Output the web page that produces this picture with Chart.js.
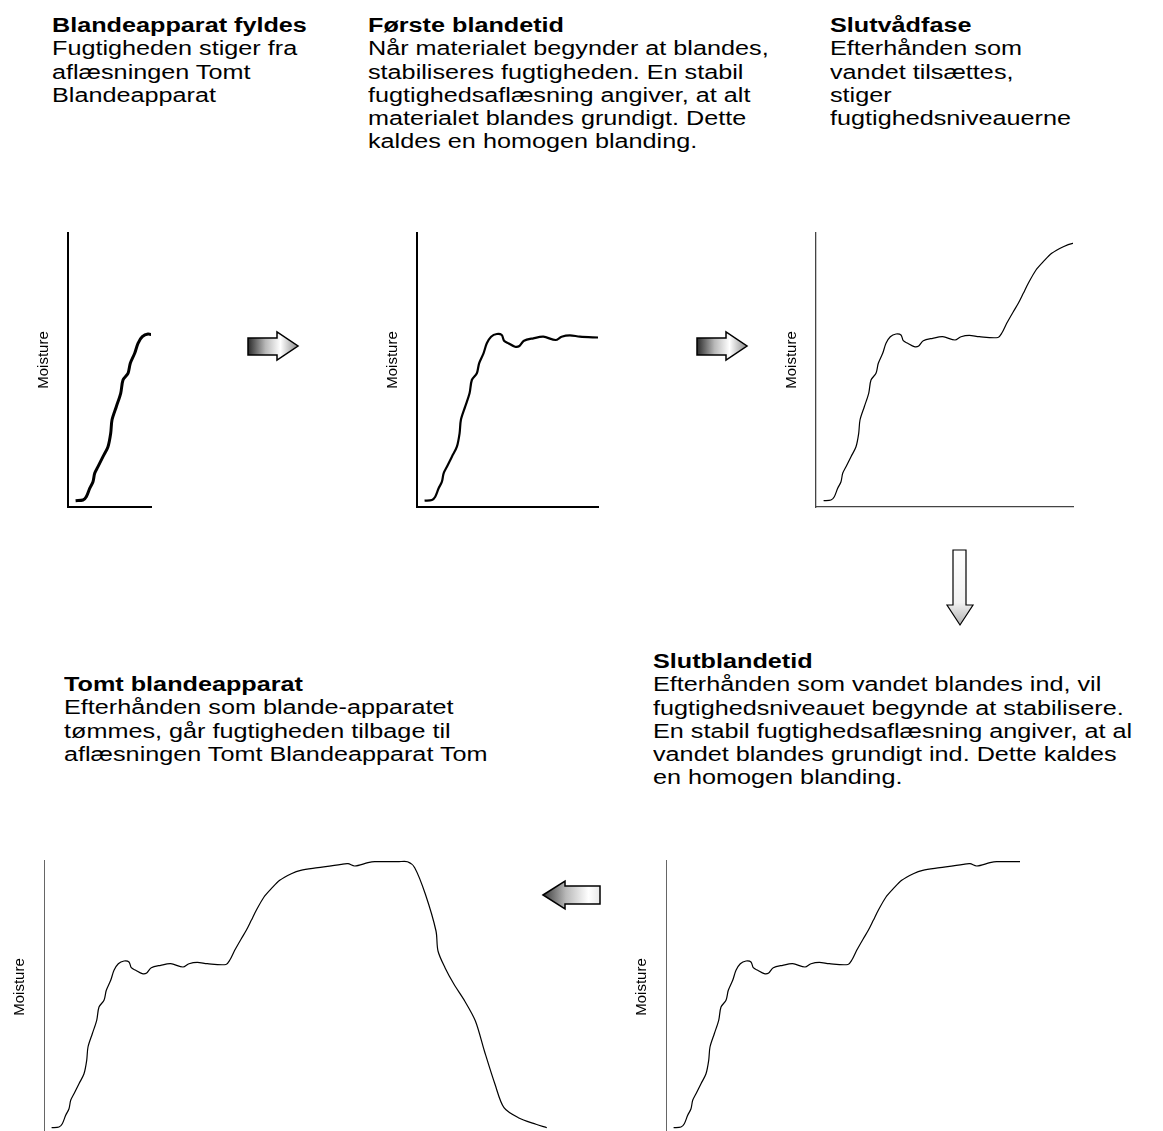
<!DOCTYPE html>
<html>
<head>
<meta charset="utf-8">
<script src="https://cdn.jsdelivr.net/npm/chart.js@4"></script>
<style>
body { margin: 0; width: 1163px; height: 1131px; position: relative; overflow: hidden; background: #fff; font-family: Arial, "Liberation Sans", sans-serif; }
.txt { position: absolute; font-size: 20px; line-height: 23.3px; color: #000; white-space: nowrap; transform: scaleX(1.26); transform-origin: 0 0; }
canvas { position: absolute; }
svg { position: absolute; left: 0; top: 0; }
</style>
</head>
<body>

<div class="txt" style="left:52px;top:14px"><b>Blandeapparat fyldes</b><br>Fugtigheden stiger fra<br>aflæsningen Tomt<br>Blandeapparat</div>
<div class="txt" style="left:368px;top:14px"><b>Første blandetid</b><br>Når materialet begynder at blandes,<br>stabiliseres fugtigheden. En stabil<br>fugtighedsaflæsning angiver, at alt<br>materialet blandes grundigt. Dette<br>kaldes en homogen blanding.</div>
<div class="txt" style="left:830px;top:14px"><b>Slutvådfase</b><br>Efterhånden som<br>vandet tilsættes,<br>stiger<br>fugtighedsniveauerne</div>
<div class="txt" style="left:653px;top:650px"><b>Slutblandetid</b><br>Efterhånden som vandet blandes ind, vil<br>fugtighedsniveauet begynde at stabilisere.<br>En stabil fugtighedsaflæsning angiver, at al<br>vandet blandes grundigt ind. Dette kaldes<br>en homogen blanding.</div>
<div class="txt" style="left:64px;top:673px"><b>Tomt blandeapparat</b><br>Efterhånden som blande-apparatet<br>tømmes, går fugtigheden tilbage til<br>aflæsningen Tomt Blandeapparat Tom</div>

<canvas id="phase1"></canvas>
<canvas id="phase2"></canvas>
<canvas id="phase3"></canvas>
<canvas id="phase4"></canvas>
<canvas id="phase5"></canvas>

<svg width="1163" height="1131">
  <defs>
    <linearGradient id="gRight" x1="0" y1="0" x2="1" y2="0">
      <stop offset="0" stop-color="#2a2a2a"/>
      <stop offset="0.35" stop-color="#b8b8b8"/>
      <stop offset="0.65" stop-color="#ffffff"/>
      <stop offset="1" stop-color="#8a8a8a"/>
    </linearGradient>
    <linearGradient id="gDown" x1="0" y1="0" x2="0" y2="1">
      <stop offset="0" stop-color="#ffffff"/>
      <stop offset="0.7" stop-color="#f2f2f2"/>
      <stop offset="1" stop-color="#b0b0b0"/>
    </linearGradient>
    <linearGradient id="gLeft" x1="0" y1="0" x2="1" y2="0">
      <stop offset="0" stop-color="#3a3a3a"/>
      <stop offset="0.4" stop-color="#b8b8b8"/>
      <stop offset="0.8" stop-color="#ffffff"/>
      <stop offset="1" stop-color="#e8e8e8"/>
    </linearGradient>
  </defs>
  <polygon points="248,338 277,338 277,332 298,346 277,360 277,355 248,355" fill="url(#gRight)" stroke="#000" stroke-width="1.5"/>
  <polygon points="697,338 726,338 726,332 747,346 726,360 726,355 697,355" fill="url(#gRight)" stroke="#000" stroke-width="1.5"/>
  <polygon points="953,550 966,550 966,605 973,605 960,625 947,605 953,605" fill="url(#gDown)" stroke="#000" stroke-width="1.2"/>
  <polygon points="543,895 565,881 565,886 600,886 600,904 565,904 565,909" fill="url(#gLeft)" stroke="#000" stroke-width="1.5"/>
</svg>

<script>
// moisture trace (time in px-units from the y axis, moisture up from the x axis)
const timeVals = [7.6, 15, 18.3, 21.7, 25, 26.7, 30, 35, 40, 42.7, 44, 48.3, 52.7, 55, 60, 62.3, 66.7, 70, 74.3, 80,
  85, 87.3, 91.7, 98.3, 102.7, 107.3, 116.7, 126.7, 139, 145, 153.3, 163.3, 182,
  185.7, 190.7, 197.3, 202.3, 207.3, 212.3, 220, 227.3, 235.7, 247.3, 256.7, 274, 297.3, 304, 310.7, 324, 330.7, 354, 363.5,
  370.7, 381.4, 392, 394, 401, 410, 420.7, 431.4, 440.4, 451, 460, 474.3, 492, 502.8];
const moistureVals = [6.3, 7, 10.3, 18.7, 25.3, 33.7, 40.3, 50.3, 60.3, 73.7, 87, 100.3, 113.7, 127, 133.7, 143.7, 153.7, 163.7, 170.3, 173,
  172, 166.3, 163.7, 160.3, 161, 166.3, 168.7, 170.3, 167, 170.3, 171.7, 170.3, 169.5,
  173.7, 183.7, 195.3, 203.7, 213.7, 223.7, 237, 245.3, 253.7, 260.3, 263.7, 266.3, 269.7, 270.3, 268, 271.3, 272.3, 272.3, 272.3,
  266.3, 239.7, 203, 183, 166.3, 149.7, 133, 113, 83, 49.7, 26.3, 16.3, 9.7, 6.3];
// where each phase's time axis ends
const phaseEnds = [83, 181.5, 257, 354, 503];
const moistureMax = 274;
const axisLabel = 'Moisture';

// axis name sits a little above the middle of the y axis, as in the original
const axisLabelPlugin = {
  id: 'axisLabel',
  afterDraw(chart) {
    const { ctx, chartArea } = chart;
    ctx.save();
    ctx.translate(chartArea.left - 24, (chartArea.top + chartArea.bottom) / 2 - 10);
    ctx.rotate(-Math.PI / 2);
    ctx.font = '15px Arial';
    ctx.fillStyle = '#000';
    ctx.textAlign = 'center';
    ctx.textBaseline = 'middle';
    ctx.fillText(axisLabel, 0, 0);
    ctx.restore();
  }
};

function drawPhase(id, axisX, axisTop, tEnd, lineW, axisColor, axisW, showXAxis) {
  const cv = document.getElementById(id);
  const padTop = 4, padRight = 4, padBottom = 4, axisArea = 40;
  cv.width = axisArea + tEnd + padRight;
  cv.height = padTop + moistureMax + padBottom;
  cv.style.left = (axisX - axisArea) + 'px';
  cv.style.top = (axisTop - padTop) + 'px';

  const pts = [];
  for (let i = 0; i < timeVals.length; i++) {
    pts.push({ x: timeVals[i], y: moistureVals[i] });
    if (timeVals[i] > tEnd) break;
  }

  new Chart(cv, {
    type: 'line',
    data: { datasets: [{ data: pts, borderColor: '#000', borderWidth: lineW, pointRadius: 0, tension: 0.3, fill: false }] },
    options: {
      responsive: false,
      animation: false,
      layout: { padding: { top: padTop, right: padRight, bottom: padBottom, left: 0 } },
      plugins: { legend: { display: false }, tooltip: { enabled: false } },
      scales: {
        x: {
          type: 'linear', min: 0, max: tEnd,
          afterFit: s => { s.height = 0; },
          ticks: { display: false },
          grid: { display: false, drawTicks: false },
          border: { display: showXAxis, color: axisColor, width: axisW }
        },
        y: {
          min: 0, max: moistureMax,
          afterFit: s => { s.width = axisArea; },
          ticks: { display: false },
          grid: { display: false, drawTicks: false },
          border: { display: true, color: axisColor, width: axisW }
        }
      }
    },
    plugins: [axisLabelPlugin]
  });
}

drawPhase('phase1', 68, 233, phaseEnds[0], 3, '#000', 2, true);
drawPhase('phase2', 417, 233, phaseEnds[1], 2.2, '#000', 2, true);
drawPhase('phase3', 816, 233, phaseEnds[2], 1.2, '#444', 1.3, true);
drawPhase('phase4', 666, 860, phaseEnds[3], 1.2, '#666', 1, false);
drawPhase('phase5', 44, 860, phaseEnds[4], 1.2, '#666', 1, false);
</script>
</body>
</html>
